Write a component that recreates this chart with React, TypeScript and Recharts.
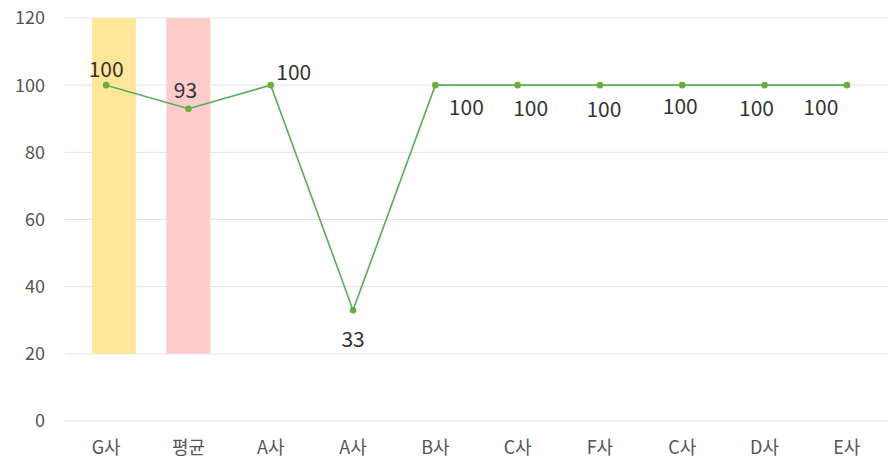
import React from "react"
import { ComposedChart, Bar, Line, XAxis, YAxis, CartesianGrid, Cell, LabelList, Rectangle } from "recharts"

const categories = ["G사", "평균", "A사", "A사", "B사", "C사", "F사", "C사", "D사", "E사"]
const scores = [100, 93, 100, 33, 100, 100, 100, 100, 100, 100]
// highlight bands behind the first two columns, as [from, to]
const bands: ([number, number] | null)[] = [[20, 120], [20, 120], null, null, null, null, null, null, null, null]
const bandColors = ["#ffe699", "#ffcccc"]
const bandShift = [8, 0]
const yTicks = [0, 20, 40, 60, 80, 100, 120]

// where each value label sits relative to its point
const labelOffsets = [
  [0, -17], [-3, -20], [23, -14], [0, 28], [31, 21],
  [13, 22], [4, 23], [-2, 20], [-8, 22], [-26, 21],
]

const data = categories.map((name, i) => ({
  name,
  score: scores[i],
  band: bands[i],
}))

const ScoreLabel = (props: any) => {
  const { x, y, value, index } = props
  const [dx, dy] = labelOffsets[index] || [0, -15]
  return (
    <text
      x={x + dx}
      y={y + dy}
      textAnchor="middle"
      dominantBaseline="central"
      fontSize={21}
      fill="#333333"
    >
      {value}
    </text>
  )
}

const BandShape = (props: any) => {
  const shift = bandShift[props.index] || 0
  return <Rectangle {...props} x={props.x + shift} />
}

export default function App() {
  return (
    <div style={{ width: 891, height: 461, fontFamily: "'Noto Sans CJK KR', sans-serif" }}>
      <style>{`body{margin:0}`}</style>
      <ComposedChart
        width={891}
        height={461}
        data={data}
        margin={{ top: 18, right: 3, bottom: 10, left: 0 }}
      >
        <CartesianGrid vertical={false} stroke="#e3e3e3" />
        <XAxis
          dataKey="name"
          height={30}
          axisLine={false}
          tickLine={false}
          tickSize={0}
          tickMargin={20}
          tick={{ fontSize: 18, fill: "#555555" }}
        />
        <YAxis
          width={65}
          domain={[0, 120]}
          ticks={yTicks}
          axisLine={false}
          tickLine={false}
          tickSize={0}
          tickMargin={20}
          tick={{ fontSize: 18, fill: "#555555" }}
        />
        <Bar dataKey="band" barSize={44} shape={<BandShape />} isAnimationActive={false}>
          {data.map((_, i) => (
            <Cell key={i} fill={bandColors[i] || "transparent"} />
          ))}
        </Bar>
        <Line
          type="linear"
          dataKey="score"
          stroke="#58ad58"
          strokeWidth={1.6}
          dot={{ r: 3.3, fill: "#6aaf3d", stroke: "#6aaf3d", strokeWidth: 0 }}
          activeDot={false}
          isAnimationActive={false}
        >
          <LabelList dataKey="score" content={<ScoreLabel />} />
        </Line>
      </ComposedChart>
    </div>
  )
}
